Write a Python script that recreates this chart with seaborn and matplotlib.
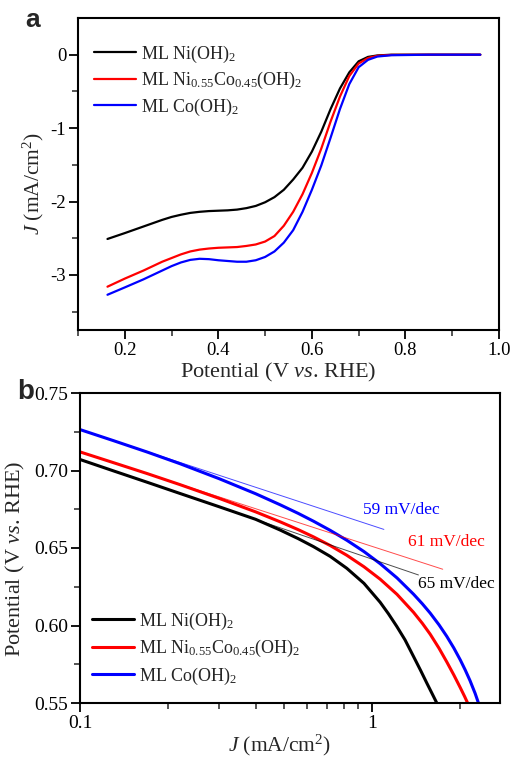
import numpy as np
import pandas as pd
import matplotlib
matplotlib.use('Agg')
import matplotlib.pyplot as plt
import matplotlib.ticker as mticker
import seaborn as sns

# panel a: LSV curves, potential (V vs RHE) -> J (mA/cm2)
ni_v = [0.163, 0.20, 0.24, 0.28, 0.30, 0.32, 0.34, 0.36, 0.38, 0.40, 0.42, 0.44, 0.46, 0.48, 0.50,
        0.52, 0.54, 0.56, 0.58, 0.60, 0.62, 0.64, 0.66, 0.68, 0.70, 0.72, 0.74, 0.77, 0.85, 0.96]
ni_j = [-2.51, -2.43, -2.34, -2.25, -2.21, -2.18, -2.155, -2.14, -2.13, -2.125, -2.12, -2.11, -2.09,
        -2.06, -2.01, -1.94, -1.84, -1.70, -1.54, -1.32, -1.05, -0.74, -0.46, -0.24, -0.09, -0.03,
        -0.01, 0.0, 0.0, 0.0]
nico_v = ni_v
nico_j = [-3.16, -3.05, -2.94, -2.82, -2.77, -2.72, -2.68, -2.655, -2.64, -2.63, -2.625, -2.62, -2.605,
          -2.585, -2.545, -2.47, -2.33, -2.14, -1.90, -1.61, -1.28, -0.91, -0.57, -0.29, -0.12, -0.045,
          -0.015, -0.003, 0.0, 0.0]
co_v = ni_v
co_j = [-3.27, -3.17, -3.06, -2.94, -2.88, -2.83, -2.795, -2.78, -2.785, -2.80, -2.81, -2.82, -2.82,
        -2.80, -2.755, -2.68, -2.56, -2.39, -2.14, -1.84, -1.51, -1.13, -0.74, -0.40, -0.17, -0.07,
        -0.025, -0.007, 0.0, 0.0]

# panel b: Tafel plots, J (mA/cm2) -> potential
ni_tj = [0.1, 0.13, 0.17, 0.22, 0.3, 0.4, 0.485, 0.56, 0.631, 0.72, 0.821, 0.94, 1.068, 1.14, 1.218,
         1.30, 1.39, 1.47, 1.545, 1.61, 1.67]
ni_tp = [0.7071, 0.6998, 0.6924, 0.6852, 0.6766, 0.6685, 0.6616, 0.6560, 0.6509, 0.6446, 0.6369,
         0.6272, 0.6150, 0.6076, 0.5994, 0.5907, 0.580, 0.571, 0.5627, 0.556, 0.55]
nico_tj = [0.1, 0.13, 0.17, 0.22, 0.3, 0.4, 0.485, 0.56, 0.631, 0.72, 0.821, 0.94, 1.068, 1.22, 1.39,
           1.49, 1.585, 1.70, 1.807, 1.91, 2.01, 2.08, 2.13]
nico_tp = [0.712, 0.7051, 0.698, 0.6909, 0.682, 0.6733, 0.6669, 0.6618, 0.6572, 0.6516, 0.6453, 0.6379,
           0.6299, 0.6201, 0.6085, 0.6014, 0.5944, 0.5853, 0.5765, 0.5681, 0.5599, 0.5542, 0.55]
co_tj = [0.1, 0.13, 0.17, 0.22, 0.3, 0.4, 0.485, 0.56, 0.631, 0.72, 0.821, 0.94, 1.068, 1.22, 1.39,
         1.49, 1.585, 1.70, 1.807, 1.91, 2.01, 2.09, 2.17, 2.26, 2.32]
co_tp = [0.7264, 0.7193, 0.7119, 0.7044, 0.6947, 0.685, 0.6779, 0.6723, 0.6673, 0.6614, 0.655, 0.6477,
         0.6399, 0.6307, 0.6202, 0.614, 0.608, 0.6004, 0.593, 0.5855, 0.5778, 0.5713, 0.5645, 0.5562, 0.55]

# linear Tafel fits
fit_co = ([0.1, 1.10], [0.7264, 0.662])
fit_nico = ([0.1, 1.75], [0.712, 0.6363])
fit_ni = ([0.1, 1.445], [0.7071, 0.6326])
slopes = ['59 mV/dec', '61 mV/dec', '65 mV/dec']

labels = ['ML Ni(OH)$_2$', 'ML Ni$_{0.55}$Co$_{0.45}$(OH)$_2$', 'ML Co(OH)$_2$']
colors = ['black', 'red', 'blue']

sns.set_theme(style='ticks')
plt.rcParams['font.family'] = ['Liberation Serif', 'DejaVu Serif']
plt.rcParams['mathtext.fontset'] = 'custom'
plt.rcParams['mathtext.rm'] = 'Liberation Serif'
plt.rcParams['mathtext.it'] = 'Liberation Serif:italic'
plt.rcParams['mathtext.bf'] = 'Liberation Serif:bold'

fig = plt.figure(figsize=(5.13, 7.57), dpi=100)
ax1 = fig.add_axes([78 / 513, 1 - 330 / 757, 421 / 513, 312 / 757])
ax2 = fig.add_axes([80 / 513, 1 - 703 / 757, 420 / 513, 310 / 757])

# ---- panel a
for xv, yv, lab, col in zip([ni_v, nico_v, co_v], [ni_j, nico_j, co_j], labels, colors):
    sns.lineplot(x=xv, y=yv, color=col, lw=1.6, label=lab, ax=ax1, sort=False, estimator=None)

ax1.set_xlim(0.1, 1.0)
ax1.set_ylim(-3.75, 0.5)
ax1.xaxis.set_major_locator(mticker.MultipleLocator(0.2))
ax1.xaxis.set_minor_locator(mticker.MultipleLocator(0.1))
ax1.yaxis.set_major_locator(mticker.FixedLocator([-3, -2, -1, 0]))
ax1.yaxis.set_minor_locator(mticker.FixedLocator([-3.5, -2.5, -1.5, -0.5]))
ax1.xaxis.set_major_formatter(mticker.FormatStrFormatter('%.1f'))
ax1.yaxis.set_major_formatter(mticker.FuncFormatter(lambda v, p: '%d' % v))
ax1.set_xlabel('Potential (V $\\mathit{vs}$. RHE)', fontsize=16)
ax1.set_ylabel('$\\mathit{J}$ (mA/cm$^2$)', fontsize=15.5)
ax1.xaxis.set_label_coords(0.475, -0.1)
ax1.yaxis.set_label_coords(-0.075, 0.47)
ax1.legend(loc='upper left', bbox_to_anchor=(0.0, 0.97), frameon=False, fontsize=13,
           handlelength=2.3, handletextpad=0.3, labelspacing=0.3)
fig.text(25 / 513, 1 - 20 / 757, 'a', fontsize=19, fontweight='bold',
         family='Liberation Sans', va='center', ha='left')

# ---- panel b
for xv, yv, lab, col in zip([ni_tj, nico_tj, co_tj], [ni_tp, nico_tp, co_tp], labels, colors):
    sns.lineplot(x=xv, y=yv, color=col, lw=2.2, label=lab, ax=ax2, sort=False, estimator=None)
for (fx, fy), col in zip([fit_ni, fit_nico, fit_co], colors):
    sns.lineplot(x=fx, y=fy, color=col, lw=0.7, alpha=0.7, ax=ax2, sort=False, estimator=None)

ax2.set_xscale('log')
ax2.set_xlim(0.1, 2.75)
ax2.set_ylim(0.55, 0.75)
ax2.xaxis.set_major_locator(mticker.FixedLocator([0.1, 1]))
ax2.xaxis.set_major_formatter(mticker.FixedFormatter(['0.1', '1']))
ax2.xaxis.set_minor_locator(mticker.FixedLocator([0.2, 0.3, 0.4, 0.5, 0.6, 0.7, 0.8, 0.9, 2.0]))
ax2.xaxis.set_minor_formatter(mticker.NullFormatter())
ax2.yaxis.set_major_locator(mticker.MultipleLocator(0.05))
ax2.yaxis.set_minor_locator(mticker.MultipleLocator(0.025))
ax2.yaxis.set_major_formatter(mticker.FormatStrFormatter('%.2f'))
ax2.set_xlabel('$\\mathit{J}$ (mA/cm$^2$)', fontsize=15.5)
ax2.set_ylabel('Potential (V $\\mathit{vs}$. RHE)', fontsize=16)
ax2.xaxis.set_label_coords(0.475, -0.095)
ax2.yaxis.set_label_coords(-0.125, 0.465)
ax2.legend(loc='lower left', bbox_to_anchor=(-0.01, 0.0), frameon=False, fontsize=13,
           handlelength=2.3, handletextpad=0.3, labelspacing=0.35)

ax2.text(1.259, 0.6745, slopes[0], color='blue', fontsize=12.5, ha='center', va='center')
ax2.text(1.796, 0.6539, slopes[1], color='red', fontsize=12.5, ha='center', va='center')
ax2.text(1.943, 0.6268, slopes[2], color='black', fontsize=12.5, ha='center', va='center')
fig.text(17 / 513, 1 - 392 / 757, 'b', fontsize=20, fontweight='bold',
         family='Liberation Sans', va='center', ha='left')

for ax, ls in ((ax1, 13.5), (ax2, 14)):
    for s in ax.spines.values():
        s.set_linewidth(1.5)
        s.set_color('black')
    ax.tick_params(which='major', direction='out', length=6.5, width=1.3, labelsize=ls,
                   colors='black', top=False, right=False, pad=2)
    ax.tick_params(which='minor', direction='out', length=4, width=1.1, top=False, right=False)

plt.savefig('out.png', dpi=100)
